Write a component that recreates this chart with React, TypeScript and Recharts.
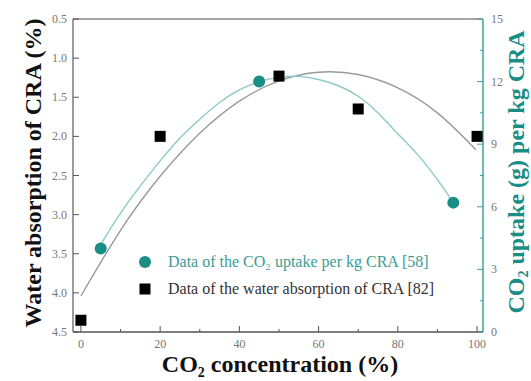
import React from "react";
import {
  ComposedChart,
  Line,
  Scatter,
  XAxis,
  YAxis,
  ReferenceLine,
} from "recharts";

// ---- data ----
const waterX = [0, 20, 50, 70, 100];
const waterY = [4.35, 2.0, 1.23, 1.65, 2.0];

const uptakeX = [5, 45, 94];
const uptakeY = [4.0, 12.0, 6.2];

// fitted curve (water absorption, left axis)
const fitWX = [0, 10, 20, 30, 40, 50, 60, 70, 80, 90, 99.7];
const fitWY = [4.04, 3.2, 2.51, 1.96, 1.55, 1.29, 1.18, 1.21, 1.38, 1.7, 2.17];

// fitted curve (CO2 uptake, right axis)
const fitUX = [5, 10, 15, 20, 25, 30, 35, 40, 45, 50, 55, 60, 65, 70, 75, 80, 85, 90, 94];
const fitUY = [4.2, 5.7, 7.0, 8.2, 9.3, 10.2, 11.0, 11.6, 12.0, 12.2, 12.25, 12.1, 11.8, 11.3, 10.5, 9.5, 8.5, 7.3, 6.2];

const xTicks = [0, 10, 20, 30, 40, 50, 60, 70, 80, 90, 100];
const leftTicks = [0.5, 1.0, 1.5, 2.0, 2.5, 3.0, 3.5, 4.0, 4.5];
const rightTicks = [0, 1.5, 3, 4.5, 6, 7.5, 9, 10.5, 12, 13.5, 15];

const legendLabels = [
  "Data of the CO\u2082 uptake per kg CRA  [58]",
  "Data of the water absorption of CRA [82]",
];

const zip = (xs: number[], ys: number[]) => xs.map((x, i) => ({ x, y: ys[i] }));
const waterData = zip(waterX, waterY);
const uptakeData = zip(uptakeX, uptakeY);
const fitWData = zip(fitWX, fitWY);
const fitUData = zip(fitUX, fitUY);

const SERIF = "'Liberation Serif', 'Times New Roman', serif";
const TEAL = "#1a8d85";
const TEAL_LINE = "#8ccac4";
const TEAL_AXIS = "#3aa39b";
const TICK_TEXT = "#777";

const XTick = (props: any) => {
  const { x, y, payload } = props;
  const v = payload.value;
  const major = v % 20 === 0;
  return (
    <g>
      <line x1={x} x2={x} y1={y} y2={y - (major ? 6 : 3)} stroke="#555" strokeWidth={1} />
      {major && (
        <text x={x} y={y + 16} textAnchor="middle" fill={TICK_TEXT} fontSize={12} fontFamily={SERIF}>
          {v}
        </text>
      )}
    </g>
  );
};

const LeftTick = (props: any) => {
  const { x, y, payload } = props;
  const v = payload.value;
  return (
    <g>
      <line x1={x} x2={x + 6} y1={y} y2={y} stroke="#555" strokeWidth={1} />
      <text x={x - 6} y={y + 4} textAnchor="end" fill={TICK_TEXT} fontSize={12} fontFamily={SERIF}>
        {v.toFixed(1)}
      </text>
    </g>
  );
};

const RightTick = (props: any) => {
  const { x, y, payload } = props;
  const v = payload.value;
  const major = Math.abs(v % 3) < 1e-6;
  return (
    <g>
      <line x1={x} x2={x - (major ? 6 : 3)} y1={y} y2={y} stroke={TEAL_AXIS} strokeWidth={1} />
      {major && (
        <text x={x + 8} y={y + 4} textAnchor="start" fill={TICK_TEXT} fontSize={12} fontFamily={SERIF}>
          {v}
        </text>
      )}
    </g>
  );
};

const SquareShape = (props: any) => {
  const { cx, cy } = props;
  return <rect x={cx - 5.5} y={cy - 5.5} width={11} height={11} fill="#000" />;
};

const CircleShape = (props: any) => {
  const { cx, cy } = props;
  return <circle cx={cx} cy={cy} r={6} fill={TEAL} />;
};

export default function App() {
  return (
    <div style={{ position: "absolute", left: 0, top: 0, width: 531, height: 381, background: "#fff" }}>
      <ComposedChart
        width={531}
        height={381}
        margin={{ top: 19, right: 0, bottom: 0, left: 0 }}
      >
        <XAxis
          type="number"
          dataKey="x"
          domain={[-2, 101.5]}
          ticks={xTicks}
          interval={0}
          allowDataOverflow
          height={49}
          tickSize={0}
          tickMargin={0}
          tick={<XTick />}
          stroke="#555"
          strokeWidth={1.3}
        />
        <YAxis
          yAxisId="left"
          type="number"
          dataKey="y"
          domain={[0.5, 4.5]}
          reversed
          ticks={leftTicks}
          interval={0}
          allowDataOverflow
          width={73}
          tickSize={0}
          tickMargin={0}
          tick={<LeftTick />}
          stroke="#666"
          strokeWidth={1.3}
        />
        <YAxis
          yAxisId="right"
          orientation="right"
          type="number"
          dataKey="y"
          domain={[0, 15]}
          ticks={rightTicks}
          interval={0}
          allowDataOverflow
          width={48}
          tickSize={0}
          tickMargin={0}
          tick={<RightTick />}
          stroke={TEAL_AXIS}
          strokeWidth={1.5}
        />
        <ReferenceLine yAxisId="left" y={0.5} stroke="#888" strokeWidth={1.5} />
        <Line
          yAxisId="left"
          data={fitWData}
          dataKey="y"
          type="natural"
          stroke="#9a9a9a"
          strokeWidth={1.4}
          dot={false}
          isAnimationActive={false}
        />
        <Line
          yAxisId="right"
          data={fitUData}
          dataKey="y"
          type="natural"
          stroke={TEAL_LINE}
          strokeWidth={1.4}
          dot={false}
          isAnimationActive={false}
        />
        <Scatter
          yAxisId="left"
          data={waterData}
          shape={<SquareShape />}
          isAnimationActive={false}
        />
        <Scatter
          yAxisId="right"
          data={uptakeData}
          shape={<CircleShape />}
          isAnimationActive={false}
        />
      </ComposedChart>
      <svg
        width={531}
        height={381}
        style={{ position: "absolute", left: 0, top: 0, pointerEvents: "none" }}
      >
        <text
          transform="translate(41,173) rotate(-90)"
          textAnchor="middle"
          fontFamily={SERIF}
          fontWeight="bold"
          fontSize={24}
          fill="#111"
        >
          Water absorption of CRA (%)
        </text>
        <text
          transform="translate(524,172) rotate(-90)"
          textAnchor="middle"
          fontFamily={SERIF}
          fontWeight="bold"
          fontSize={24}
          fill={TEAL}
        >
          CO<tspan fontSize={14} dy={4}>2</tspan>
          <tspan dy={-4}> uptake (g) per kg CRA</tspan>
        </text>
        <text
          x={280}
          y={372}
          textAnchor="middle"
          fontFamily={SERIF}
          fontWeight="bold"
          fontSize={24}
          fill="#111"
        >
          CO<tspan fontSize={14} dy={5}>2</tspan>
          <tspan dy={-5}> concentration (%)</tspan>
        </text>
        <circle cx={145} cy={262} r={6} fill={TEAL} />
        <text x={168} y={267} fontFamily={SERIF} fontSize={16} fill="#3a9d95">
          {legendLabels[0]}
        </text>
        <rect x={139.5} y={283.5} width={11} height={11} fill="#000" />
        <text x={168} y={294} fontFamily={SERIF} fontSize={16} fill="#333">
          {legendLabels[1]}
        </text>
      </svg>
    </div>
  );
}
